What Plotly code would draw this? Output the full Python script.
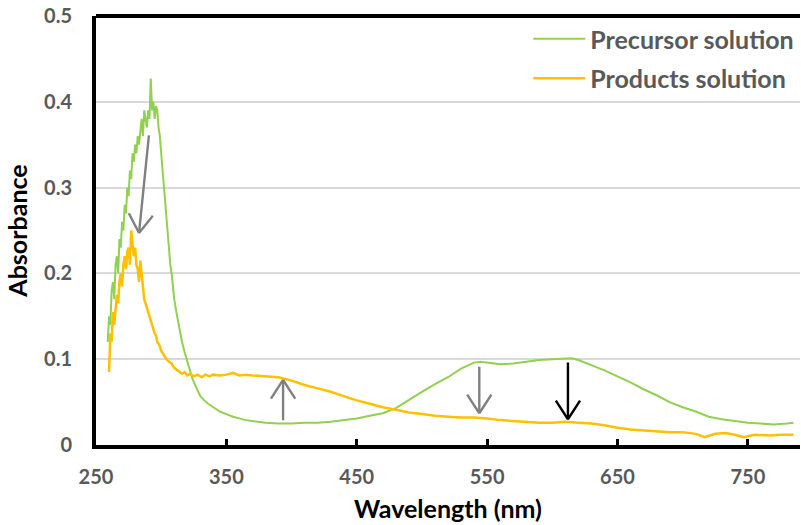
import math
import plotly.graph_objects as go

# Precursor solution (green)
wl_pre = [259, 260, 261, 262, 263, 264, 265, 266, 267, 268, 269, 270, 271, 272, 273, 274, 275,
          276, 277, 278, 279, 280, 281, 282, 283, 284, 285, 286, 287, 288, 289, 290, 291, 292,
          293, 294, 295, 296, 297, 298, 299, 300, 301, 302, 303, 304, 305, 306, 307, 308, 309,
          310, 312, 314, 316, 318, 320, 322, 324, 326, 328, 330, 333, 336, 340, 345, 350, 355,
          360, 365, 370, 380, 390, 400, 410, 420, 430, 440, 450, 460, 470, 480, 490, 500, 510,
          520, 530, 540, 545, 550, 560, 570, 580, 590, 600, 610, 615, 620, 630, 640, 650, 660,
          670, 680, 690, 700, 710, 720, 730, 740, 750, 760, 770, 780, 785]
abs_pre = [0.12, 0.15, 0.14, 0.18, 0.19, 0.17, 0.21, 0.22, 0.20, 0.24, 0.23, 0.26, 0.25, 0.28, 0.27,
           0.30, 0.29, 0.32, 0.31, 0.34, 0.33, 0.35, 0.34, 0.36, 0.35, 0.37, 0.38, 0.36, 0.39, 0.38,
           0.37, 0.39, 0.38, 0.427, 0.39, 0.40, 0.38, 0.395, 0.39, 0.37, 0.36, 0.34, 0.32, 0.30,
           0.29, 0.27, 0.25, 0.23, 0.21, 0.20, 0.18, 0.17, 0.152, 0.135, 0.12, 0.108, 0.097, 0.087,
           0.077, 0.07, 0.063, 0.057, 0.052, 0.048, 0.044, 0.039, 0.036, 0.033, 0.031, 0.029, 0.028,
           0.026, 0.025, 0.025, 0.026, 0.026, 0.027, 0.029, 0.031, 0.034, 0.037, 0.043, 0.053, 0.062,
           0.071, 0.079, 0.089, 0.096, 0.097, 0.096, 0.094, 0.095, 0.097, 0.099, 0.100, 0.101, 0.101,
           0.099, 0.093, 0.087, 0.080, 0.073, 0.065, 0.058, 0.050, 0.044, 0.039, 0.033, 0.030, 0.028,
           0.026, 0.025, 0.024, 0.025, 0.026]

# Products solution (yellow)
wl_prod = [260, 261, 262, 263, 264, 265, 266, 267, 268, 269, 270, 271, 272, 273, 274, 275, 276,
           277, 278, 279, 280, 281, 282, 283, 284, 285, 286, 287, 288, 289, 290, 291, 292, 293,
           294, 295, 296, 297, 298, 299, 300, 302, 304, 306, 308, 310, 312, 314, 316, 318, 320,
           322, 325, 328, 331, 334, 337, 340, 345, 350, 355, 360, 365, 370, 380, 390, 400, 410,
           420, 430, 440, 450, 460, 470, 480, 490, 500, 510, 520, 530, 540, 550, 560, 570, 580,
           590, 600, 610, 620, 630, 640, 650, 660, 670, 680, 690, 700, 710, 717, 725, 733, 740,
           747, 755, 767, 775, 785]
abs_prod = [0.085, 0.13, 0.12, 0.155, 0.14, 0.16, 0.175, 0.165, 0.19, 0.20, 0.185, 0.21, 0.22, 0.205,
            0.225, 0.23, 0.21, 0.25, 0.235, 0.22, 0.23, 0.21, 0.205, 0.19, 0.215, 0.20, 0.185, 0.17,
            0.165, 0.16, 0.155, 0.15, 0.145, 0.14, 0.135, 0.13, 0.128, 0.12, 0.118, 0.115, 0.11,
            0.105, 0.10, 0.097, 0.095, 0.09, 0.088, 0.086, 0.083, 0.085, 0.081, 0.083, 0.080, 0.082,
            0.079, 0.082, 0.080, 0.082, 0.081, 0.082, 0.084, 0.081, 0.082, 0.081, 0.080, 0.079,
            0.075, 0.070, 0.066, 0.062, 0.057, 0.052, 0.048, 0.044, 0.041, 0.038, 0.036, 0.034,
            0.033, 0.032, 0.032, 0.031, 0.029, 0.028, 0.027, 0.026, 0.026, 0.027, 0.026, 0.025,
            0.023, 0.020, 0.018, 0.017, 0.016, 0.015, 0.015, 0.013, 0.009, 0.013, 0.014, 0.012,
            0.009, 0.012, 0.011, 0.012, 0.012]

# Arrows: (tail x, tail y, head x, head y, colour)
arrows = [
    (290.7, 0.3625, 283.0, 0.247, "#808080"),
    (393.5, 0.027, 393.5, 0.0758, "#808080"),
    (544.0, 0.093, 544.0, 0.037, "#808080"),
    (612.0, 0.098, 612.0, 0.030, "#000000"),
]

x_ticks = [250, 350, 450, 550, 650, 750]
y_ticks = [0, 0.1, 0.2, 0.3, 0.4, 0.5]
y_tick_text = ["0", "0.1", "0.2", "0.3", "0.4", "0.5"]

X_RANGE = [250, 790]
Y_RANGE = [0, 0.5]
W, H = 801, 525
M = dict(l=96, r=1, t=16, b=80)
FONT = "Lato"
GRAY = "#595959"

fig = go.Figure()
fig.add_trace(go.Scatter(x=wl_pre, y=abs_pre, mode="lines", name="Precursor solution",
                         line=dict(color="#92D050", width=2), legendgroup="a"))
fig.add_trace(go.Scatter(x=wl_prod, y=abs_prod, mode="lines", name="Products solution",
                         line=dict(color="#FFC000", width=2.5), legendgroup="b"))

# open V-shaped arrowheads: shaft + two wings (wing offsets in pixels)
px_per_x = (W - M["l"] - M["r"]) / (X_RANGE[1] - X_RANGE[0])
px_per_y = (H - M["t"] - M["b"]) / (Y_RANGE[1] - Y_RANGE[0])
WING_LEN, WING_ANG = 24, math.radians(33)
for tx, ty, hx, hy, col in arrows:
    common = dict(x=hx, y=hy, xref="x", yref="y", text="", showarrow=True, arrowhead=0,
                  arrowwidth=2.4, arrowcolor=col, standoff=0, startstandoff=0)
    fig.add_annotation(ax=tx, ay=ty, axref="x", ayref="y", **common)
    dx = (tx - hx) * px_per_x
    dy = -(ty - hy) * px_per_y
    n = math.hypot(dx, dy)
    ux, uy = dx / n, dy / n
    for s in (1, -1):
        a = s * WING_ANG
        wx = WING_LEN * (ux * math.cos(a) - uy * math.sin(a))
        wy = WING_LEN * (ux * math.sin(a) + uy * math.cos(a))
        fig.add_annotation(ax=wx, ay=wy, axref="pixel", ayref="pixel", **common)

# top border
fig.add_shape(type="line", xref="paper", yref="paper", x0=0, x1=1, y0=1, y1=1,
              line=dict(color="black", width=4))

fig.update_layout(
    width=W, height=H,
    margin=dict(**M, autoexpand=False),
    plot_bgcolor="white", paper_bgcolor="white",
    font=dict(family=FONT, size=20, color=GRAY, weight="bold"),
    showlegend=True,
    legend=dict(x=0.614, y=1.0, xanchor="left", yanchor="top", bgcolor="rgba(0,0,0,0)",
                font=dict(family=FONT, size=25, color=GRAY, weight="bold"),
                itemwidth=52, tracegroupgap=4),
    xaxis=dict(range=X_RANGE, tickvals=x_ticks, ticks="inside", ticklen=6, tickwidth=3,
               tickcolor="black", showline=True, linewidth=4, linecolor="black",
               showgrid=False, zeroline=False, automargin=False, ticklabelstandoff=11,
               tickfont=dict(family=FONT, size=20, color=GRAY, weight="bold"),
               title=dict(text="Wavelength (nm)", standoff=14,
                          font=dict(family=FONT, size=25, color="black", weight="bold"))),
    yaxis=dict(range=Y_RANGE, tickvals=y_ticks, ticktext=y_tick_text, ticks="",
               showline=True, linewidth=4, linecolor="black", automargin=False,
               showgrid=True, gridcolor="#D9D9D9", gridwidth=1.5, zeroline=False,
               ticklabelstandoff=16,
               tickfont=dict(family=FONT, size=20, color=GRAY, weight="bold"),
               title=dict(text="Absorbance", standoff=10,
                          font=dict(family=FONT, size=25, color="black", weight="bold"))),
)

fig.write_html("out.html", config={"displayModeBar": False},
               post_script="document.body.style.margin='0px';")
